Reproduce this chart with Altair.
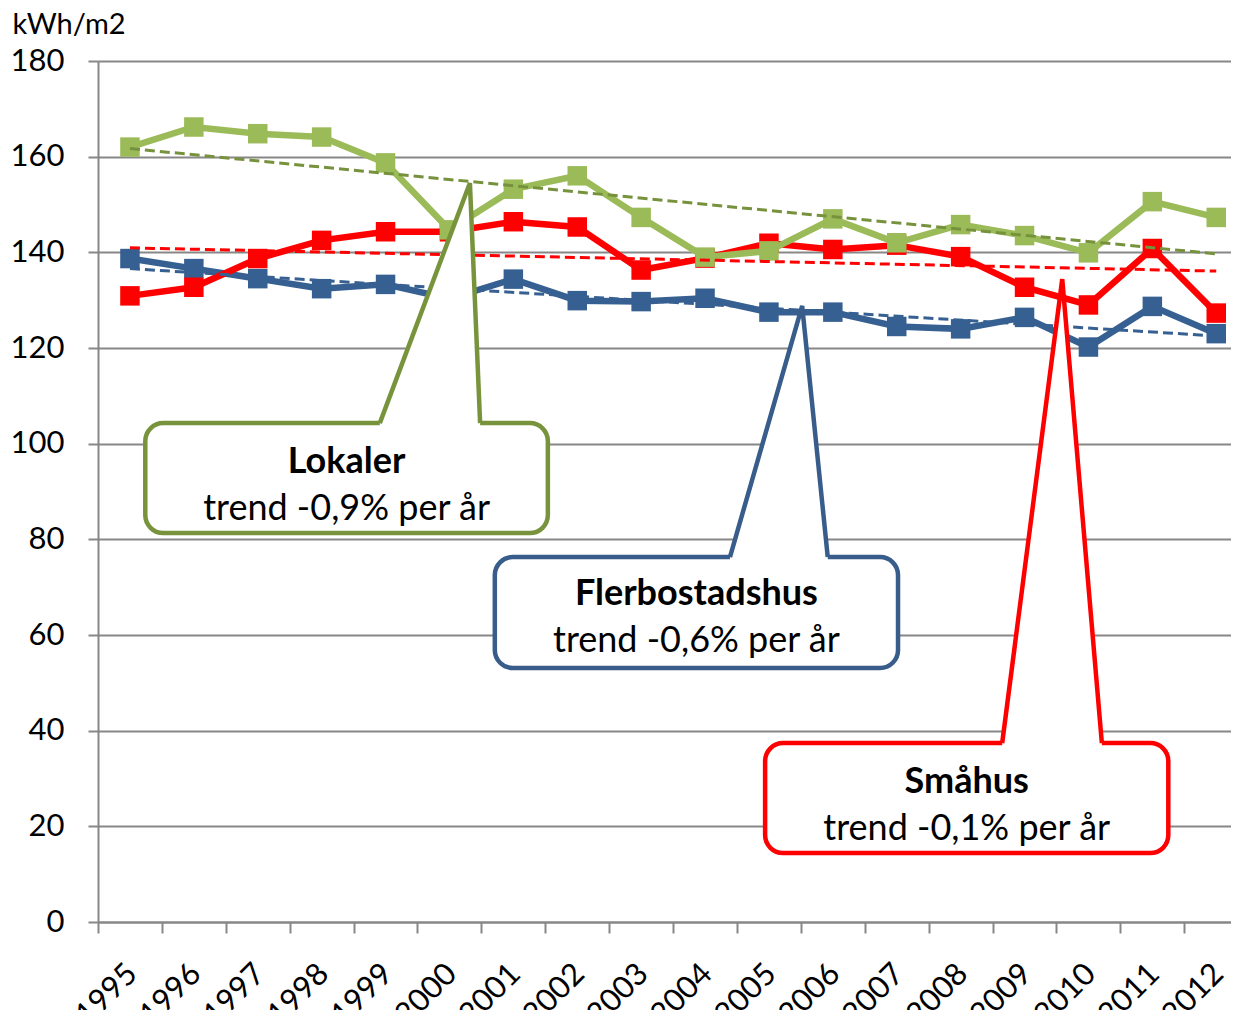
import altair as alt
import pandas as pd

# ---------------- data ----------------
years = list(range(1995, 2013))
lokaler = [162.0, 166.2, 164.8, 164.1, 158.7, 144.7, 153.2, 156.0, 147.3,
           139.0, 140.3, 147.0, 142.0, 145.8, 143.5, 139.9, 150.6, 147.3]
smahus = [130.9, 132.7, 138.7, 142.5, 144.3, 144.3, 146.4, 145.3, 136.3,
          138.8, 141.9, 140.6, 141.5, 139.1, 132.7, 129.0, 140.8, 127.3]
flerbo = [138.7, 136.6, 134.5, 132.4, 133.3, 130.3, 134.4, 129.9, 129.7,
          130.4, 127.5, 127.5, 124.5, 124.0, 126.4, 120.2, 128.7, 123.0]

series_names = ["Flerbostadshus", "Småhus", "Lokaler"]
series_values = [flerbo, smahus, lokaler]
series_colors = ["#376092", "#FF0000", "#9BBB59"]
trend_colors = ["#376092", "#FF0000", "#76923C"]

y_ticks = [0, 20, 40, 60, 80, 100, 120, 140, 160, 180]
x_tick_positions = [y - 0.5 for y in years]  # category boundaries

# callouts (data coordinates)
callout_titles = ["Lokaler", "Flerbostadshus", "Småhus"]
callout_subtitles = ["trend -0,9% per år", "trend -0,6% per år", "trend -0,1% per år"]
callout_colors = ["#77933C", "#385D8A", "#FF0000"]
box_x1 = [1995.24, 2000.71, 2004.94]
box_x2 = [2001.54, 2007.02, 2011.25]
box_top = [104.3, 76.3, 37.4]
box_bottom = [81.3, 53.1, 14.4]
ptr_left = [1998.91, 2004.39, 2008.65]
ptr_right = [2000.48, 2005.92, 2010.21]
tip_x = [2000.32, 2005.52, 2009.59]
tip_y = [154.5, 128.8, 134.4]
title_y = [93.9, 66.3, 27.0]
sub_y = [84.0, 56.5, 17.1]

FONT = "Lato"

rows = []
for name, vals in zip(series_names, series_values):
    for yr, v in zip(years, vals):
        rows.append({"series": name, "year": yr, "value": v})
df = pd.DataFrame(rows)

# ---------------- scales / axes ----------------
x_scale = alt.Scale(domain=[1994.5, 2012.231], nice=False, zero=False)
y_scale = alt.Scale(domain=[0, 180], nice=False, zero=True)

x_axis = alt.Axis(
    values=x_tick_positions,
    labelExpr="format(datum.value + 0.5, 'd')",
    labelAngle=-45,
    labelAlign="right",
    labelBaseline="middle",
    labelOffset=34,
    labelPadding=36,
    labelOverlap=False,
    labelFlush=False,
    labelBound=False,
    tickSize=11,
    grid=False,
    title=None,
)
y_axis = alt.Axis(
    values=y_ticks,
    tickSize=10,
    labelPadding=24,
    grid=True,
    title="kWh/m2",
    titleAngle=0,
    titleAlign="left",
    titleBaseline="alphabetic",
    titleX=-86,
    titleY=-28,
    titleFont=FONT,
    titleFontSize=29,
    titleFontWeight="normal",
    titleColor="black",
)


def X(field):
    return alt.X(f"{field}:Q", scale=x_scale, axis=x_axis, title=None)


def Y(field):
    return alt.Y(f"{field}:Q", scale=y_scale, axis=y_axis, title="kWh/m2")


layers = []

# series lines + markers
for name, col in zip(series_names, series_colors):
    base = alt.Chart(df).transform_filter(alt.datum.series == name)
    layers.append(base.mark_line(color=col, strokeWidth=6.5).encode(x=X("year"), y=Y("value")))
    layers.append(base.mark_square(color=col, size=380, opacity=1).encode(x=X("year"), y=Y("value")))

# trend lines (linear regression)
for name, col in zip(series_names, trend_colors):
    layers.append(
        alt.Chart(df)
        .transform_filter(alt.datum.series == name)
        .transform_regression("year", "value", method="linear")
        .mark_line(color=col, strokeWidth=3, strokeDash=[10, 5])
        .encode(x=X("year"), y=Y("value"))
    )

# callouts
for i in range(3):
    col = callout_colors[i]
    box = pd.DataFrame([{"x1": box_x1[i], "x2": box_x2[i], "yt": box_top[i], "yb": box_bottom[i]}])
    layers.append(
        alt.Chart(box)
        .mark_rect(cornerRadius=18, fill="white", stroke=col, strokeWidth=4.5)
        .encode(x=X("x1"), x2="x2:Q", y=Y("yt"), y2="yb:Q")
    )
    ptr = pd.DataFrame([
        {"px": ptr_left[i], "py": box_top[i], "py2": box_top[i] - 0.8},
        {"px": tip_x[i], "py": tip_y[i], "py2": box_top[i] - 0.8},
        {"px": ptr_right[i], "py": box_top[i], "py2": box_top[i] - 0.8},
    ])
    layers.append(
        alt.Chart(ptr)
        .mark_area(fill="white", opacity=1, interpolate="linear")
        .encode(x=X("px"), y=Y("py"), y2="py2:Q")
    )
    layers.append(
        alt.Chart(ptr)
        .mark_line(color=col, strokeWidth=4.5, strokeJoin="miter", interpolate="linear")
        .encode(x=X("px"), y=Y("py"))
    )
    txt = pd.DataFrame([
        {"cx": (box_x1[i] + box_x2[i]) / 2, "ty": title_y[i], "label": callout_titles[i]},
    ])
    layers.append(
        alt.Chart(txt)
        .mark_text(font=FONT, fontSize=36, fontWeight="bold", align="center",
                   baseline="alphabetic", color="black")
        .encode(x=X("cx"), y=Y("ty"), text="label:N")
    )
    sub = pd.DataFrame([
        {"cx": (box_x1[i] + box_x2[i]) / 2, "ty": sub_y[i], "label": callout_subtitles[i]},
    ])
    layers.append(
        alt.Chart(sub)
        .mark_text(font=FONT, fontSize=36, fontWeight="normal", align="center",
                   baseline="alphabetic", color="black")
        .encode(x=X("cx"), y=Y("ty"), text="label:N")
    )

chart = (
    alt.layer(*layers)
    .properties(
        width=1133,
        height=861,
        autosize=alt.AutoSizeParams(type="none"),
        padding={"left": 90, "top": 53, "right": 0, "bottom": 88},
        background="white",
    )
    .configure_view(stroke=None)
    .configure_axis(
        gridColor="#878787",
        gridWidth=2,
        domainColor="#878787",
        domainWidth=2,
        tickColor="#878787",
        tickWidth=2,
        labelFont=FONT,
        labelFontSize=31,
        labelColor="black",
    )
)

chart.save("out.html", embed_options={"renderer": "svg", "actions": False})
